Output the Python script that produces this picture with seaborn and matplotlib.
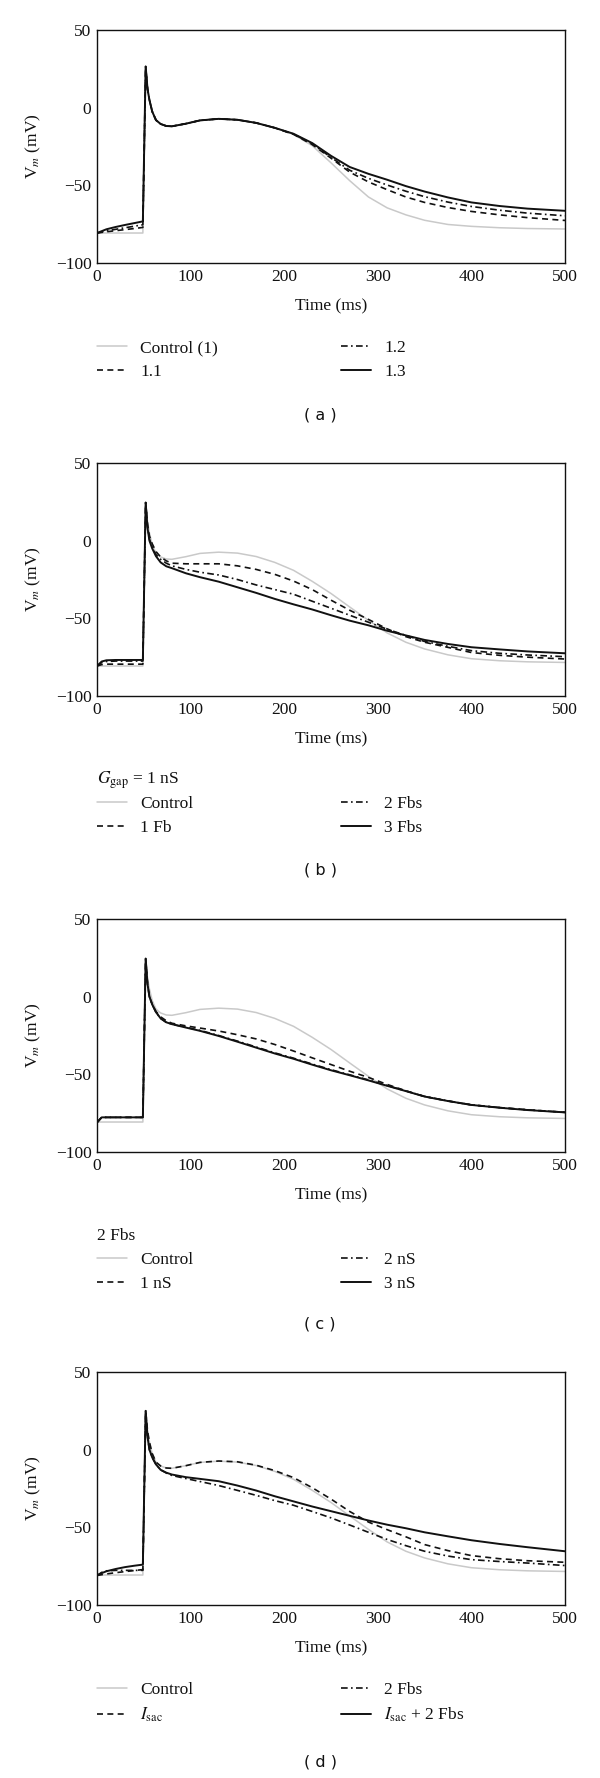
import pandas as pd
import seaborn as sns
import matplotlib.pyplot as plt
from matplotlib.lines import Line2D

# ====== Data (time in ms, membrane potential in mV) ======
T = [0, 5, 10, 20, 30, 40, 49, 52, 54, 56, 59, 63, 68, 74, 80, 95, 110, 130,
     150, 170, 190, 210, 230, 250, 270, 290, 310, 330, 350, 375, 400, 430, 460, 500]

# panel (a)
A_CONTROL = [-80.7, -80.7, -80.7, -80.7, -80.7, -80.7, -80.7, 26.5, 12, 5, -2.5, -8, -10.5, -11.8,
             -12, -10.3, -8.2, -7.2, -7.8, -9.8, -13, -17.2, -24.5, -35.5, -47, -57.5, -64.5,
             -69, -72.5, -75.2, -76.4, -77.3, -77.8, -78.1]
A_11 = [-80.7, -80.3, -79.9, -79.2, -78.5, -77.8, -77.1, 26.5, 12, 5, -2.5, -8, -10.5, -11.8,
        -12, -10.3, -8.2, -7.2, -7.8, -9.8, -13, -17.2, -23.8, -32.5, -41.5, -47.8, -52.8,
        -57.5, -61, -64.3, -66.8, -69, -70.8, -72.6]
A_12 = [-80.7, -80, -79.3, -78.3, -77.3, -76.3, -75.4, 26.5, 12, 5, -2.5, -8, -10.5, -11.8,
        -12, -10.3, -8.2, -7.2, -7.8, -9.8, -13, -17, -23.3, -32, -40.3, -45.5, -49.8,
        -53.8, -57.3, -60.8, -63.6, -66, -67.9, -69.6]
A_13 = [-80.7, -79.5, -78.3, -76.8, -75.5, -74.3, -73.2, 26.5, 12, 5, -2.5, -8, -10.5, -11.8,
        -12, -10.3, -8.2, -7.2, -7.8, -9.8, -13, -16.8, -22.8, -31, -38.2, -42.6, -46.4,
        -50.5, -54, -57.8, -61, -63.3, -65, -66.4]

# control used in panels (b)-(d)
CONTROL = [-80.7, -80.7, -80.7, -80.7, -80.7, -80.7, -80.7, 24.5, 12, 5, -2.5, -8, -10.5, -11.8,
           -12, -10.3, -8.2, -7.4, -8, -10.2, -14, -19.1, -26.2, -34, -42.7, -51.3, -59.4,
           -65.4, -69.7, -73.5, -76, -77.3, -78, -78.4]

# panel (b)
B_1FB = [-80.7, -79.8, -79.5, -79.5, -79.5, -79.5, -79.5, 24.5, 10, 3, -2, -7, -10.5, -13,
         -14.5, -14.9, -14.9, -14.9, -16.2, -18.5, -21.7, -26, -31.5, -38.3, -44.8, -50.7,
         -56.8, -61.8, -65.4, -68.7, -72, -73.8, -75, -76.2]
B_2FBS = [-80.7, -78.5, -77.8, -77.5, -77.5, -77.5, -77.5, 24.5, 9, 1, -4, -9, -12, -14.5,
          -16.2, -18.5, -20.3, -22.1, -25, -28.5, -31.5, -34.5, -39, -43.5, -48, -52.5,
          -57, -61, -64.9, -68, -70.8, -72.5, -73.6, -74.7]
B_3FBS = [-80.7, -77.8, -77, -76.8, -76.8, -76.8, -76.8, 24.5, 8, 0, -5, -10, -14, -16.5,
          -17.7, -21, -23.5, -26.4, -30, -33.6, -37.5, -41, -44.3, -48, -51.5, -54.5,
          -58, -61, -63.9, -66.5, -68.6, -70, -71.3, -72.5]

# panel (c)
C_1NS = [-81, -77.7, -77.7, -77.7, -77.7, -77.7, -77.7, 24.5, 8, 0, -5, -9.5, -13, -15.5,
         -17.1, -18.8, -20.2, -22.1, -24.5, -27.2, -30.8, -35, -39.4, -43.7, -48, -52,
         -56.5, -60.6, -64.3, -67.2, -69.7, -71.4, -72.8, -74.5]
C_2NS = [-81, -77.7, -77.7, -77.7, -77.7, -77.7, -77.7, 24.5, 8, 0, -5, -10, -14, -16.5,
         -17.7, -19.7, -21.7, -25, -28.6, -32.4, -36.2, -39.6, -43.4, -47, -50.3, -53.6,
         -57.2, -60.7, -64.2, -67.1, -69.6, -71.4, -72.9, -74.4]
C_3NS = [-81, -77.7, -77.7, -77.7, -77.7, -77.7, -77.7, 24.5, 8, 0, -5, -10, -14, -16.5,
         -17.7, -19.9, -22, -25.3, -29, -32.8, -36.6, -40, -43.8, -47.4, -50.6, -53.9,
         -57.4, -60.8, -64.3, -67.2, -69.7, -71.5, -73, -74.5]

# panel (d)
D_ISAC = [-81, -80.5, -80, -79.2, -78.5, -77.8, -77.2, 25, 12, 5, -2.5, -8, -10.5, -11.8,
          -12, -10.3, -8.2, -7.3, -7.8, -10, -13.5, -18, -24.5, -31.8, -39.8, -46.6,
          -51.5, -56.1, -61.1, -65, -68.2, -70.2, -71.5, -72.5]
D_2FBS = [-81, -79, -78, -77.7, -77.7, -77.7, -77.7, 25, 8, 0, -5, -9.5, -13, -15,
          -16.6, -18.6, -20.5, -23.1, -26.2, -29.4, -32.8, -35.8, -39.8, -43.9, -48.5, -53.2,
          -57.8, -61.8, -65.4, -68.5, -70.8, -72, -73, -74.6]
D_ISAC_2FBS = [-81, -79.5, -78.3, -76.8, -75.6, -74.7, -74, 25, 8, 0, -5, -9.5, -13, -14.8,
               -16, -17.7, -18.8, -20.3, -23.1, -26.3, -30, -33.3, -36.6, -39.6, -42.6, -45.6,
               -48.3, -50.6, -53.2, -55.8, -58.3, -60.7, -62.8, -65.4]

X_TICKS = [0, 100, 200, 300, 400, 500]
Y_TICKS = [-100, -50, 0, 50]

# ====== Styles ======
GREY = "#c9c9c9"
BLACK = "#111111"
STYLES = [
    dict(color=GREY, lw=1.1, ls="-"),
    dict(color=BLACK, lw=1.2, ls=(0, (3.6, 2.6))),
    dict(color=BLACK, lw=1.2, ls=(0, (4, 2, 1, 2))),
    dict(color=BLACK, lw=1.4, ls="-"),
]

PANELS = [
    ("a", [A_CONTROL, A_11, A_12, A_13], ["Control (1)", "1.1", "1.2", "1.3"], None, 263, 152),
    ("b", [CONTROL, B_1FB, B_2FBS, B_3FBS], ["Control", "1 Fb", "2 Fbs", "3 Fbs"],
     r"$G_{\mathrm{gap}}$ = 1 nS", 696, 174),
    ("c", [CONTROL, C_1NS, C_2NS, C_3NS], ["Control", "1 nS", "2 nS", "3 nS"], "2 Fbs", 1152, 172),
    ("d", [CONTROL, D_ISAC, D_2FBS, D_ISAC_2FBS],
     ["Control", r"$I_{\mathrm{sac}}$", "2 Fbs", r"$I_{\mathrm{sac}}$ + 2 Fbs"], None, 1605, 157),
]

W, H = 600, 1778
LEFT, RIGHT = 97, 565
AX_H = 233
FS = 12.5

sns.set_theme(style="white")
plt.rcParams["font.family"] = ["Liberation Serif", "DejaVu Serif"]
plt.rcParams["mathtext.fontset"] = "stix"

fig = plt.figure(figsize=(W / 100, H / 100), dpi=100)


def fx(px):
    return px / W


def fy(px):
    return 1 - px / H


for letter, series, labels, title, bottom, lab_off in PANELS:
    ax = fig.add_axes([fx(LEFT), fy(bottom), (RIGHT - LEFT) / W, AX_H / H])
    df = pd.DataFrame({"t": T})
    for vals, st in zip(series, STYLES):
        df["v"] = vals
        sns.lineplot(data=df, x="t", y="v", ax=ax, color=st["color"], lw=st["lw"],
                     linestyle=st["ls"], estimator=None, sort=False)
    ax.set_xlim(0, 500)
    ax.set_ylim(-100, 50)
    ax.set_xticks(X_TICKS)
    ax.set_yticks(Y_TICKS)
    ax.set_yticklabels(["\u2212100", "\u221250", "0", "50"])
    ax.tick_params(direction="in", length=4, width=1, labelsize=FS, colors=BLACK,
                   top=False, right=False, pad=4)
    for sp in ax.spines.values():
        sp.set_color(BLACK)
        sp.set_linewidth(1.0)
    ax.set_xlabel("Time (ms)", fontsize=FS, color=BLACK, labelpad=10)
    ax.set_ylabel(r"V$_{m}$ (mV)", fontsize=FS, color=BLACK, labelpad=9)

    # legend block below the axes
    top = bottom + 84
    if title is not None:
        fig.text(fx(LEFT), fy(top), title, fontsize=FS, color=BLACK, va="center", ha="left")
        top += 23
    handles = [Line2D([], [], color=st["color"], lw=st["lw"], ls=st["ls"]) for st in STYLES]
    for col, xpx in enumerate([LEFT, 341]):
        idx = [col * 2, col * 2 + 1]
        leg = fig.legend([handles[i] for i in idx], [labels[i] for i in idx],
                         loc="upper left", bbox_to_anchor=(fx(xpx), fy(top - 7)),
                         bbox_transform=fig.transFigure, frameon=False, fontsize=FS,
                         borderpad=0, borderaxespad=0, handlelength=1.75,
                         handletextpad=0.75, labelspacing=0.43)
        for txt in leg.get_texts():
            txt.set_color(BLACK)

    fig.text(fx(320), fy(bottom + lab_off), f"( {letter} )", fontsize=11.5,
             family="DejaVu Sans", ha="center", va="center", color=BLACK)

fig.savefig("out.png", dpi=100, facecolor="white")
